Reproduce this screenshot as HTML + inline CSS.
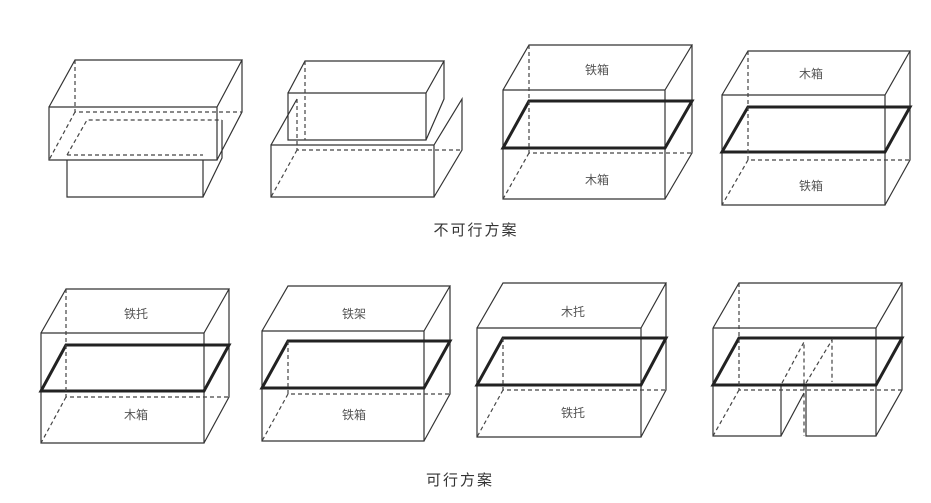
<!DOCTYPE html>
<html><head><meta charset="utf-8"><style>
html,body{margin:0;padding:0;background:#fff}
svg{display:block}
.l{stroke:#333;stroke-width:1.2;fill:none}
.d{stroke:#444;stroke-width:1.2;fill:none;stroke-dasharray:4,3}
.p{stroke:#222;stroke-width:3;fill:none}
text{font-family:"Liberation Sans","Noto Sans CJK SC",sans-serif;fill:#555;font-size:12px;text-anchor:middle}
.t{font-size:15px;fill:#333;letter-spacing:2px}
</style></head><body>
<svg width="931" height="503" viewBox="0 0 931 503">
<!-- Top 1 -->
<path class="l" d="M49,107H217V160H49Z M49,107L75,60H242L217,107 M242,60V112L217,160"/>
<path class="d" d="M75,60V112H242 M75,112L49,160"/>
<path class="l" d="M67,160V197H203V160 M203,197L222,158V120"/>
<path class="d" d="M67,155H203 M67,155L87,120H222"/>
<!-- Top 2 -->
<path class="l" d="M288,93H426V140H288Z M288,93L305,61H444L426,93 M444,61V99L426,140"/>
<path class="l" d="M271,145H434V197H271Z M434,145L462,99V150L434,197 M271,145L297,99"/>
<path class="d" d="M297,99V150H462 M297,150L271,197 M305,61V140"/>
<!-- Top 3 -->
<path class="l" d="M503,90H665V199H503Z M503,90L529,45H692L665,90 M692,45V153L665,199"/>
<path class="p" d="M503,148H665L692,101H529Z"/>
<path class="d" d="M529,101V153H692 M529,153L503,199 M529,45V101"/>
<text x="597" y="74">铁箱</text><text x="597" y="184">木箱</text>
<!-- Top 4 -->
<path class="l" d="M722,95H885V205H722Z M722,95L748,51H910L885,95 M910,51V160L885,205"/>
<path class="p" d="M722,152H885L910,107H748Z"/>
<path class="d" d="M748,107V160H910 M748,160L722,205 M748,51V107"/>
<text x="811" y="78">木箱</text><text x="811" y="190">铁箱</text>
<text class="t" x="476" y="235">不可行方案</text>
<!-- Bottom 1 -->
<path class="l" d="M41,333H204V443H41Z M41,333L66,289H229L204,333 M229,289V397L204,443"/>
<path class="p" d="M41,391H204L229,345H66Z"/>
<path class="d" d="M66,289V397H229 M66,397L41,443"/>
<text x="136" y="318">铁托</text><text x="136" y="419">木箱</text>
<!-- Bottom 2 -->
<path class="l" d="M262,331H424V441H262Z M262,331L288,286H450L424,331 M450,286V394L424,441"/>
<path class="p" d="M262,388H424L450,341H288Z"/>
<path class="d" d="M288,341V394H450 M288,394L262,441"/>
<text x="354" y="318">铁架</text><text x="354" y="419">铁箱</text>
<!-- Bottom 3 -->
<path class="l" d="M477,328H641V437H477Z M477,328L503,283H666L641,328 M666,283V390L641,437"/>
<path class="p" d="M477,385H641L666,338H503Z"/>
<path class="d" d="M503,338V390H666 M503,390L477,437"/>
<text x="573" y="316">木托</text><text x="573" y="417">铁托</text>
<!-- Bottom 4 -->
<path class="l" d="M713,328H876V385 M713,328V436H781V385 M806,385V436H876V385 M713,328L739,283H902L876,328 M902,283V390L876,436 M781,436L804,393"/>
<path class="p" d="M713,385H876L902,338H739Z"/>
<path class="d" d="M739,283V390H902 M739,390L713,436 M782,383L804,342V436 M806,383L832,340V382"/>
<text class="t" x="460" y="485">可行方案</text>
</svg>
</body></html>
